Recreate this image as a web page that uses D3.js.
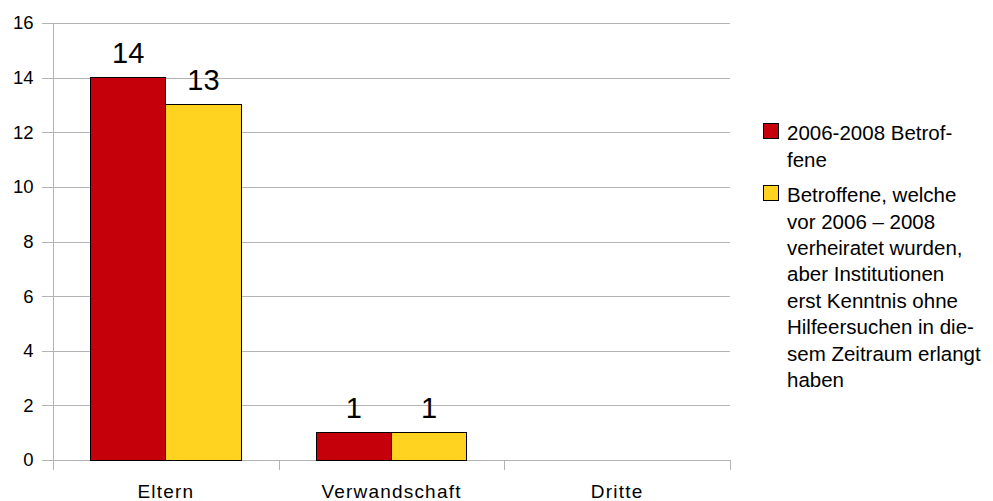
<!DOCTYPE html>
<html lang="de">
<head>
<meta charset="UTF-8">
<title>Betroffene</title>
<script src="https://d3js.org/d3.v7.min.js"></script>
<style>
  body { margin: 0; background: #fff; font-family: "Liberation Sans", Arial, sans-serif; }
  svg text { fill: #000; }
</style>
</head>
<body>
<svg width="993" height="501"></svg>
<script>
const categories = ["Eltern", "Verwandschaft", "Dritte"];
const seriesNames = ["2006-2008 Betroffene", "Betroffene, welche vor 2006 – 2008 verheiratet wurden, aber Institutionen erst Kenntnis ohne Hilfeersuchen in diesem Zeitraum erlangt haben"];
const series1 = [14, 1, null];
const series2 = [13, 1, null];
const yTicks = [0, 2, 4, 6, 8, 10, 12, 14, 16];
const legendLines = [
  ["2006-2008 Betrof-", "fene"],
  ["Betroffene, welche", "vor 2006 – 2008", "verheiratet wurden,", "aber Institutionen", "erst Kenntnis ohne", "Hilfeersuchen in die-", "sem Zeitraum erlangt", "haben"]
];
const colors = ["#c5000b", "#ffd320"];

const plotLeft = 53, plotRight = 730, plotTop = 23, plotBottom = 460;
const svg = d3.select("svg");

const x = d3.scaleBand().domain(categories).range([plotLeft, plotRight]);
const xs = d3.scaleBand().domain([0, 1]).range([0, x.bandwidth()]).paddingOuter(0.5).paddingInner(0);
const y = d3.scaleLinear().domain([0, 16]).range([plotBottom, plotTop]);

// grid
svg.append("g").selectAll("line").data(yTicks).join("line")
  .attr("x1", plotLeft - 11).attr("x2", plotRight)
  .attr("y1", d => Math.round(y(d)) + 0.5).attr("y2", d => Math.round(y(d)) + 0.5)
  .attr("stroke", "#b3b3b3").attr("stroke-width", 1);

// y axis
const yAxis = svg.append("g").attr("transform", `translate(${plotLeft + 0.5},0)`)
  .call(d3.axisLeft(y).tickValues(yTicks).tickSize(0).tickPadding(20));
yAxis.select(".domain").attr("stroke", "#b3b3b3").attr("d", `M0,${plotTop}V${plotBottom + 10}`);
yAxis.selectAll("text").attr("font-size", 18.5).attr("font-family", "Liberation Sans, Arial, sans-serif");

// category dividers
svg.append("g").selectAll("line").data(categories).join("line")
  .attr("x1", d => Math.round(x(d) + x.bandwidth()) + 0.5).attr("x2", d => Math.round(x(d) + x.bandwidth()) + 0.5)
  .attr("y1", plotBottom).attr("y2", plotBottom + 10)
  .attr("stroke", "#b3b3b3");

// x labels
svg.append("g").selectAll("text").data(categories).join("text")
  .attr("x", d => x(d) + x.bandwidth() / 2).attr("y", 498)
  .attr("text-anchor", "middle").attr("font-size", 19).attr("letter-spacing", 1.2).text(d => d);

// bars
const data = [];
categories.forEach((c, i) => {
  [series1, series2].forEach((s, j) => {
    if (s[i] != null) data.push({ c, j, v: s[i] });
  });
});

svg.append("g").selectAll("rect").data(data).join("rect")
  .attr("x", d => x(d.c) + xs(d.j))
  .attr("width", xs.bandwidth())
  .attr("y", d => y(d.v))
  .attr("height", d => y(0) - y(d.v))
  .attr("fill", d => colors[d.j])
  .attr("stroke", "#000").attr("stroke-width", 1).attr("shape-rendering", "crispEdges");

svg.append("g").selectAll("text").data(data).join("text")
  .attr("x", d => x(d.c) + xs(d.j) + xs.bandwidth() / 2)
  .attr("y", d => y(d.v) - 15)
  .attr("text-anchor", "middle").attr("font-size", 29).text(d => d.v);

// legend
const lg = svg.append("g");
const lineH = 26.4;
let ly = 133;
legendLines.forEach((lines, j) => {
  lg.append("rect").attr("x", 763).attr("y", ly - 10).attr("width", 15).attr("height", 15)
    .attr("fill", colors[j]).attr("stroke", "#000").attr("shape-rendering", "crispEdges");
  lines.forEach((t, k) => {
    lg.append("text").attr("x", 787).attr("y", ly + k * lineH).attr("dy", "0.35em")
      .attr("font-size", 20.5).text(t);
  });
  ly += lines.length * lineH + 9.2;
});
</script>
</body>
</html>
